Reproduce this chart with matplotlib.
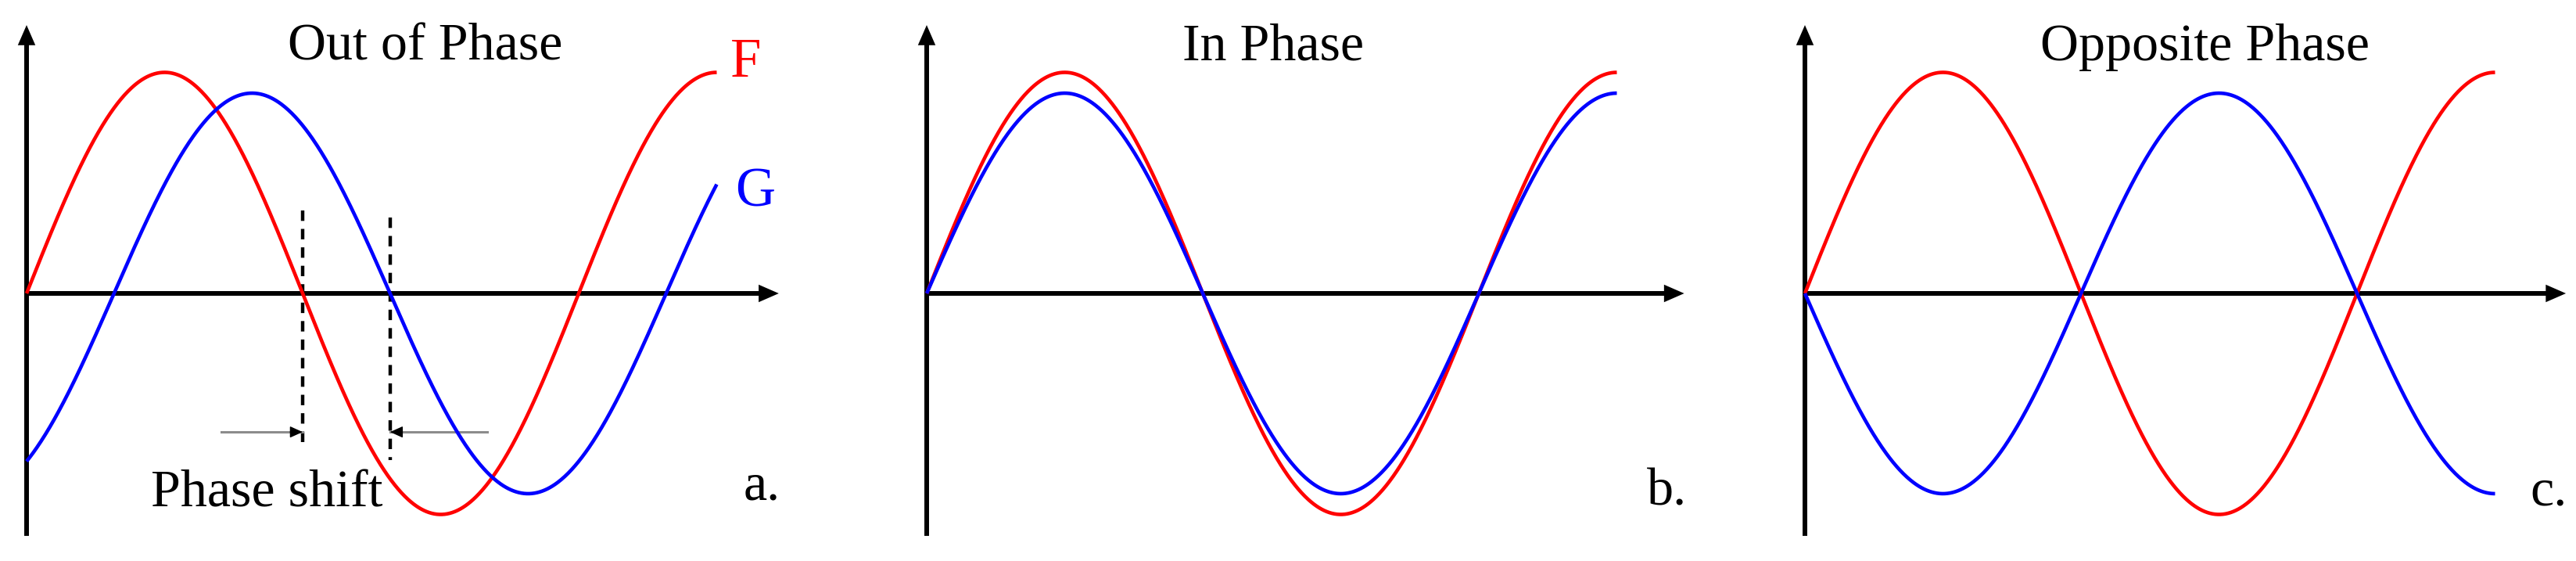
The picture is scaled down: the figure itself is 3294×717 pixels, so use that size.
import numpy as np
import matplotlib
matplotlib.use("Agg")
import matplotlib.pyplot as plt

# ---------------- data ----------------
panel_titles = ["Out of Phase", "In Phase", "Opposite Phase"]
panel_labels = ["a.", "b.", "c."]
f_amplitude = [1.0, 1.0, 1.0]          # red curve F
g_amplitude = [0.906, 0.906, 0.906]    # blue curve G
g_phase_deg = [-57.0, 0.0, 180.0]      # phase of G relative to F
n_cycles = [1.25, 1.25, 1.25]          # how many periods are drawn
curve_names = ["F", "G"]

# ---------------- layout / style ----------------
W_PX, H_PX = 3294, 717
DPI = 100
PX_PER_RAD = 706.0 / (2 * np.pi)
PX_PER_UNIT = 282.5
origins_px = [(34, 375), (1185, 375), (2308, 375)]
panel_w_px = W_PX / 3
x_axis_len = [8.56, 8.62, 8.66]        # radians
y_axis_top, y_axis_bot = 1.214, -1.097
title_x = [4.54, 3.94, 4.55]
title_y = 1.055
label_x = [8.16, 8.20, 8.25]
label_y = [-0.934, -0.959, -0.959]

RED, BLUE = "#ff0000", "#0000ff"
SERIF = ["Liberation Serif", "DejaVu Serif"]
FS = 49
CURVE_LW = 3.3
AXIS_LW = 4.3

fig = plt.figure(figsize=(W_PX / DPI, H_PX / DPI), dpi=DPI)


def axis_arrow(ax, start, tip):
    ax.annotate("", xy=tip, xytext=start,
                arrowprops=dict(arrowstyle="-|>,head_length=11,head_width=4.8",
                                mutation_scale=1, lw=AXIS_LW, color="black",
                                shrinkA=0, shrinkB=0, joinstyle="miter",
                                capstyle="butt"),
                zorder=3)


for i in range(3):
    ox, oy = origins_px[i]
    x0 = i * panel_w_px
    ax = fig.add_axes([x0 / W_PX, 0, panel_w_px / W_PX, 1])
    ax.set_xlim((x0 - ox) / PX_PER_RAD, (x0 + panel_w_px - ox) / PX_PER_RAD)
    ax.set_ylim(-(H_PX - oy) / PX_PER_UNIT, oy / PX_PER_UNIT)
    ax.axis("off")

    # axes with arrows
    axis_arrow(ax, (0, y_axis_bot), (0, y_axis_top))
    axis_arrow(ax, (0, 0), (x_axis_len[i], 0))

    x = np.linspace(0, 2 * np.pi * n_cycles[i], 800)
    f = f_amplitude[i] * np.sin(x)
    g = g_amplitude[i] * np.sin(x + np.deg2rad(g_phase_deg[i]))
    ax.plot(x, f, color=RED, lw=CURVE_LW, solid_capstyle="butt", zorder=4)
    ax.plot(x, g, color=BLUE, lw=CURVE_LW, solid_capstyle="butt", zorder=4)

    ax.text(title_x[i], title_y, panel_titles[i], ha="center", va="baseline",
            fontsize=FS, family=SERIF)
    ax.text(label_x[i], label_y[i], panel_labels[i], ha="left", va="baseline",
            fontsize=FS, family=SERIF)

    if i == 0:
        # curve names
        ax.text(8.01, 0.98, curve_names[0], color=RED, ha="left", va="baseline",
                fontsize=FS + 2, family=SERIF)
        ax.text(8.06, 0.393, curve_names[1], color=BLUE, ha="left", va="baseline",
                fontsize=FS + 2, family=SERIF)
        # phase shift markers at zero crossings of F and G
        xf = np.pi
        xg = np.pi - np.deg2rad(g_phase_deg[i])
        ax.plot([xf, xf], [0.375, -0.697], color="black", lw=3.2,
                linestyle=(0, (3, 2.3)), zorder=2)
        ax.plot([xg, xg], [0.343, -0.754], color="black", lw=3.2,
                linestyle=(0, (3, 2.3)), zorder=2)
        arr_y = -0.627
        for start, tip in [((283 - ox) / PX_PER_RAD, xf), ((623 - ox) / PX_PER_RAD, xg)]:
            ax.plot([start, tip], [arr_y, arr_y], color="#8c8c8c", lw=2.2, zorder=3)
            back = tip + np.sign(start - tip) * 0.14
            ax.annotate("", xy=(tip, arr_y), xytext=(back, arr_y),
                        arrowprops=dict(arrowstyle="-|>,head_length=10,head_width=4.5",
                                        mutation_scale=1, lw=1.0, color="black",
                                        shrinkA=0, shrinkB=0),
                        zorder=3)
        ax.text(1.415, -0.963, "Phase shift", ha="left", va="baseline",
                fontsize=FS, family=SERIF)

fig.savefig("out.png", dpi=DPI, facecolor="white")
